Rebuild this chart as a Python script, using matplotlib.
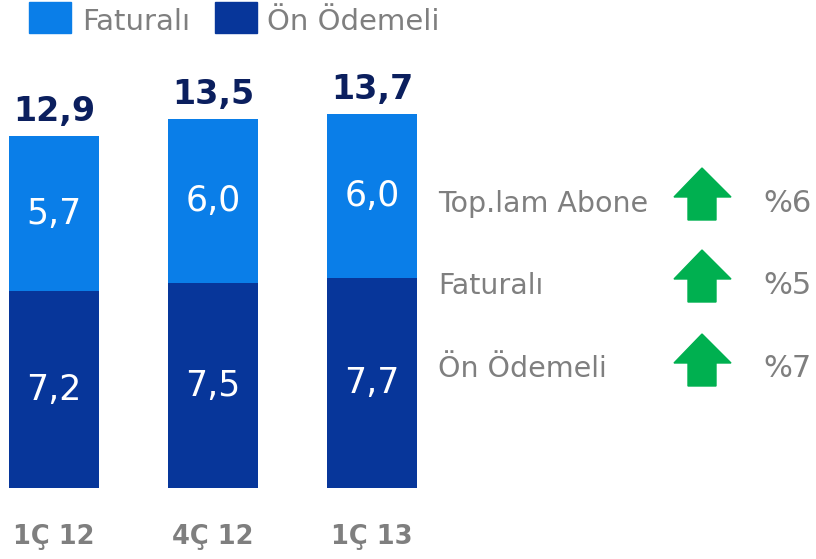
import matplotlib
matplotlib.use("Agg")
import matplotlib.pyplot as plt
from matplotlib.patches import Polygon, Rectangle

categories = ["1Ç 12", "4Ç 12", "1Ç 13"]
onodemeli = [7.2, 7.5, 7.7]
faturali = [5.7, 6.0, 6.0]
totals = [12.9, 13.5, 13.7]
growth_labels = ["Top.lam Abone", "Faturalı", "Ön Ödemeli"]
growth_values = ["%6", "%5", "%7"]

C_LIGHT = "#0A7EE8"
C_DARK = "#07369A"
C_NAVY = "#0B1F5E"
C_GRAY = "#7F7F7F"
C_GREEN = "#00B050"

W, H = 816, 559
fig = plt.figure(figsize=(W / 100, H / 100), dpi=100)

def fx(px):
    return px / W

def fy(py):
    return 1 - py / H

# main bar axes: x pixel 0..430, y pixel 0..488
ax = fig.add_axes([0, fy(488), fx(430), 488 / H])
ax.set_xlim(-54 / 159, (430 - 54) / 159)
ax.set_ylim(0, 488 / 27.3)
ax.axis("off")

x = list(range(len(categories)))
bw = 90 / 159
ax.bar(x, onodemeli, width=bw, color=C_DARK)
ax.bar(x, faturali, width=bw, bottom=onodemeli, color=C_LIGHT)

fam = ["DejaVu Sans"]
for i in x:
    ax.text(i, onodemeli[i] / 2, f"{onodemeli[i]:.1f}".replace(".", ","),
            ha="center", va="center", color="white", fontsize=25, family=fam)
    ax.text(i, onodemeli[i] + faturali[i] / 2, f"{faturali[i]:.1f}".replace(".", ","),
            ha="center", va="center", color="white", fontsize=25, family=fam)
    ax.text(i, totals[i] + 0.3, f"{totals[i]:.1f}".replace(".", ","),
            ha="center", va="bottom", color=C_NAVY, fontsize=24, family=fam,
            fontweight="semibold")
    ax.text(i, -1.8, categories[i], ha="center", va="center", color=C_GRAY,
            fontsize=18.5, family=fam, fontweight="bold")

# legend
fig.patches.append(Rectangle((fx(29), fy(33)), fx(42), 31 / H, color=C_LIGHT,
                             transform=fig.transFigure, figure=fig))
fig.text(fx(82), fy(30), "Faturalı", color=C_GRAY, fontsize=21, family=fam,
         va="baseline", ha="left")
fig.patches.append(Rectangle((fx(215), fy(33)), fx(42), 31 / H, color=C_DARK,
                             transform=fig.transFigure, figure=fig))
fig.text(fx(267), fy(30), "Ön Ödemeli", color=C_GRAY, fontsize=21, family=fam,
         va="baseline", ha="left")

# growth table
row_base = [212, 294, 377]
arrow_tip = [168, 250, 334]
for lab, val, rb, tip in zip(growth_labels, growth_values, row_base, arrow_tip):
    fig.text(fx(438), fy(rb), lab, color=C_GRAY, fontsize=20.5, family=fam,
             va="baseline", ha="left")
    fig.text(fx(763), fy(rb), val, color=C_GRAY, fontsize=22, family=fam,
             va="baseline", ha="left")
    pts = [(702, tip), (731, tip + 29), (716, tip + 29), (716, tip + 52),
           (688, tip + 52), (688, tip + 29), (674, tip + 29)]
    fig.patches.append(Polygon([(fx(a), fy(b)) for a, b in pts], closed=True,
                               color=C_GREEN, transform=fig.transFigure, figure=fig))

fig.savefig("out.png", dpi=100)
